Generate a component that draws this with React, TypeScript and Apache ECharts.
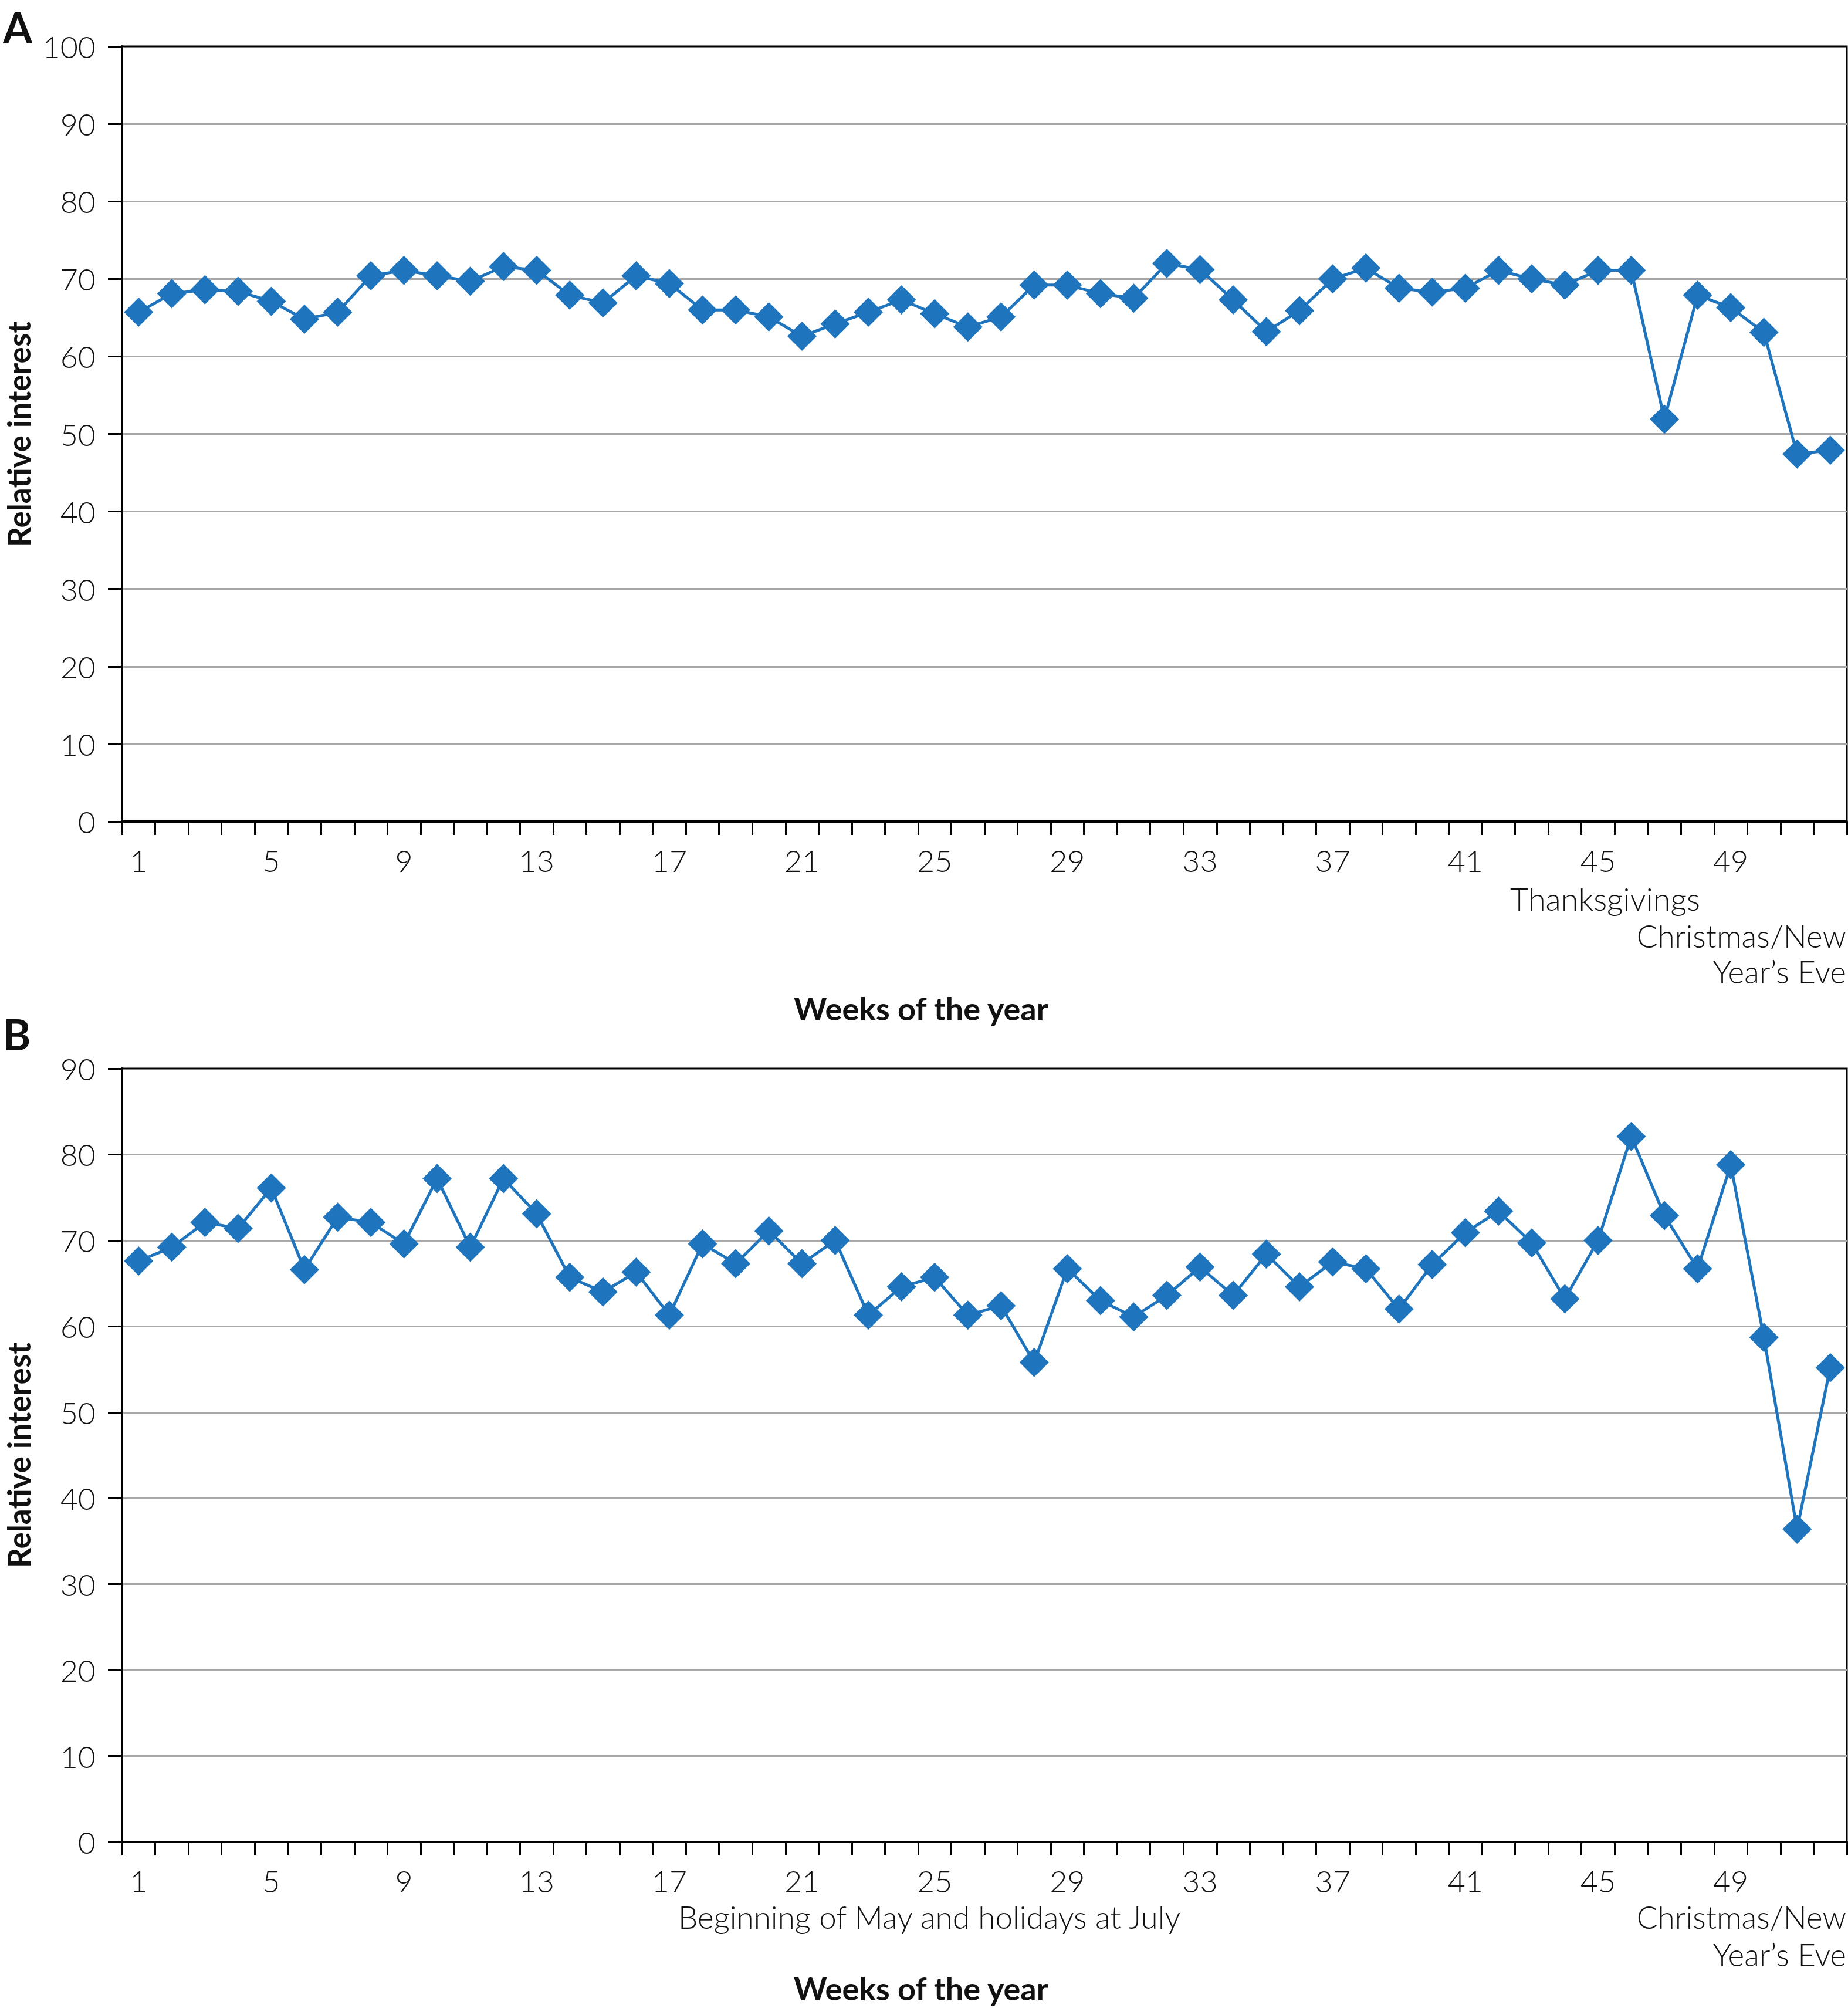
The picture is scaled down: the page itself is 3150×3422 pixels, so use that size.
import React, { useEffect, useRef } from "react";
import * as echarts from "echarts";

const weeks: string[] = Array.from({ length: 52 }, (_, i) => String(i + 1));

const interestA: number[] = [
  65.7, 68.1, 68.6, 68.4, 67.1, 64.8, 65.7, 70.4, 71.1, 70.4,
  69.7, 71.6, 71.1, 67.9, 66.9, 70.4, 69.4, 66.0, 66.0, 65.1,
  62.6, 64.2, 65.7, 67.3, 65.5, 63.8, 65.1, 69.2, 69.2, 68.1,
  67.5, 72.0, 71.2, 67.3, 63.2, 65.9, 70.0, 71.4, 68.8, 68.3,
  68.8, 71.1, 70.0, 69.2, 71.1, 71.1, 51.9, 67.9, 66.3, 63.1,
  47.4, 47.9,
];

const interestB: number[] = [
  67.6, 69.2, 72.1, 71.4, 76.1, 66.6, 72.7, 72.1, 69.6, 77.2,
  69.2, 77.2, 73.1, 65.7, 64.0, 66.3, 61.3, 69.6, 67.3, 71.1,
  67.3, 70.0, 61.3, 64.6, 65.7, 61.3, 62.4, 55.8, 66.7, 63.0,
  61.1, 63.6, 66.9, 63.6, 68.4, 64.6, 67.5, 66.7, 62.0, 67.2,
  70.9, 73.4, 69.7, 63.2, 70.0, 82.1, 72.9, 66.7, 78.8, 58.7,
  36.4, 55.2,
];

const yMaxA = 100;
const yMaxB = 90;
const yStep = 10;

const FONT = "Lato, 'Noto Sans', sans-serif";
const BLUE = "#1f75bd";

function xAxisCfg(gridIndex: number) {
  return {
    type: "category",
    gridIndex,
    data: weeks,
    boundaryGap: true,
    axisLine: { show: true, lineStyle: { color: "#000", width: 4 } },
    axisTick: {
      show: true,
      interval: 0,
      length: 23,
      lineStyle: { color: "#000", width: 3 },
    },
    axisLabel: {
      interval: 3,
      fontSize: 52,
      fontFamily: FONT,
      fontWeight: 300,
      color: "#111",
      margin: 40,
    },
    splitLine: { show: false },
  };
}

function yAxisCfg(gridIndex: number, max: number) {
  return {
    type: "value",
    gridIndex,
    min: 0,
    max,
    interval: yStep,
    axisLine: { show: true, lineStyle: { color: "#000", width: 4 } },
    axisTick: { show: true, length: 24, lineStyle: { color: "#000", width: 3 } },
    axisLabel: {
      fontSize: 52,
      fontFamily: FONT,
      fontWeight: 300,
      color: "#111",
      margin: 45,
    },
    splitLine: {
      show: true,
      showMaxLine: false,
      showMinLine: false,
      lineStyle: { color: "#a8a8ab", width: 3 },
    },
  };
}

function txt(
  text: string,
  x: number,
  y: number,
  size: number,
  weight: any,
  align: string,
  rotation = 0
) {
  return {
    type: "text",
    x,
    y,
    rotation,
    z: 10,
    style: {
      text,
      fill: "#111",
      fontSize: size,
      fontFamily: FONT,
      fontWeight: weight,
      align,
      textAlign: align,
      verticalAlign: "middle",
      textVerticalAlign: "middle",
    },
  };
}

export default function App() {
  const ref = useRef<HTMLDivElement>(null);
  useEffect(() => {
    if (!ref.current) return;
    const chart = echarts.init(ref.current, undefined, { renderer: "svg" });
    const seriesStyle = {
      type: "line",
      symbol: "diamond",
      symbolSize: 50,
      showSymbol: true,
      showAllSymbol: true,
      lineStyle: { color: BLUE, width: 5 },
      itemStyle: { color: BLUE },
    };
    chart.setOption({
      animation: false,
      backgroundColor: "#fff",
      grid: [
        {
          left: 208,
          top: 79,
          width: 2940,
          height: 1321,
          show: true,
          borderColor: "#000",
          borderWidth: 3,
          containLabel: false,
        },
        {
          left: 208,
          top: 1821,
          width: 2940,
          height: 1318,
          show: true,
          borderColor: "#000",
          borderWidth: 3,
          containLabel: false,
        },
      ],
      xAxis: [xAxisCfg(0), xAxisCfg(1)],
      yAxis: [yAxisCfg(0, yMaxA), yAxisCfg(1, yMaxB)],
      series: [
        { ...seriesStyle, name: "A", xAxisIndex: 0, yAxisIndex: 0, data: interestA },
        { ...seriesStyle, name: "B", xAxisIndex: 1, yAxisIndex: 1, data: interestB },
      ],
      graphic: [
        txt("A", 5, 46, 72, "bold", "left"),
        txt("B", 5, 1762, 72, "bold", "left"),
        txt("Relative interest", 31, 740, 53, "bold", "center", Math.PI / 2),
        txt("Relative interest", 31, 2480, 53, "bold", "center", Math.PI / 2),
        txt("Thanksgivings", 2736, 1531, 54, 300, "center"),
        txt("Christmas/New", 3147, 1594, 53, 300, "right"),
        txt("Year\u2019s Eve", 3147, 1655, 53, 300, "right"),
        txt("Weeks of the year", 1570, 1718, 54, "bold", "center"),
        txt("Beginning of May and holidays at July", 1584, 3266, 53, 300, "center"),
        txt("Christmas/New", 3147, 3266, 53, 300, "right"),
        txt("Year\u2019s Eve", 3147, 3330, 53, 300, "right"),
        txt("Weeks of the year", 1570, 3388, 54, "bold", "center"),
      ],
    });
    return () => chart.dispose();
  }, []);
  return (
    <div
      ref={ref}
      style={{ position: "absolute", left: 0, top: 0, width: 3150, height: 3422 }}
    />
  );
}
